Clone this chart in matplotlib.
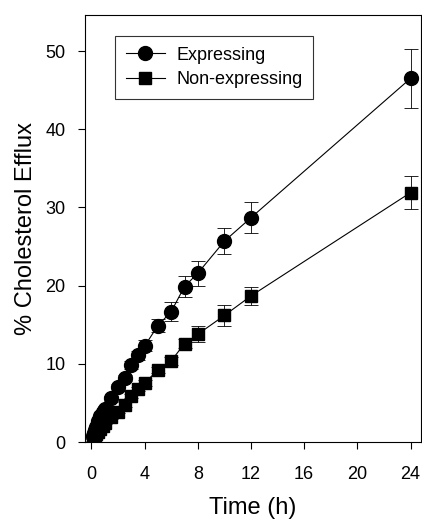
import matplotlib
matplotlib.use('Agg')
import matplotlib.pyplot as plt
from matplotlib.lines import Line2D

plt.rcParams['font.family'] = ['Liberation Sans', 'DejaVu Sans']

# ── Data ──────────────────────────────────────────────────────────────────────
time_h = [0.08, 0.17, 0.25, 0.33, 0.5, 0.67, 0.83, 1, 1.5, 2, 2.5, 3, 3.5, 4,
          5, 6, 7, 8, 10, 12, 24]
expr = [0.8, 1.2, 1.6, 2.0, 2.7, 3.3, 3.9, 4.3, 5.6, 7.0, 8.2, 9.9, 11.1, 12.3,
        14.9, 16.7, 19.9, 21.6, 25.7, 28.7, 46.5]
expr_err = [0.1, 0.1, 0.1, 0.1, 0.2, 0.2, 0.2, 0.3, 0.3, 0.4, 0.4, 0.5, 0.6, 0.7,
            0.8, 1.2, 1.3, 1.6, 1.7, 2.0, 3.8]
nonexpr = [0.3, 0.5, 0.8, 1.0, 1.3, 1.7, 2.1, 2.5, 3.2, 3.9, 4.8, 5.9, 6.8, 7.6,
           9.2, 10.4, 12.6, 13.8, 16.2, 18.7, 31.9]
nonexpr_err = [0.1, 0.1, 0.1, 0.1, 0.1, 0.1, 0.2, 0.2, 0.2, 0.2, 0.3, 0.3, 0.3, 0.4,
               0.4, 0.5, 0.6, 1.0, 1.3, 1.2, 2.1]

fig = plt.figure(figsize=(4.22, 5.19), dpi=100)
ax = fig.add_axes([0.201, 0.148, 0.797, 0.823])

ax.errorbar(time_h, expr, yerr=expr_err, fmt='-o', color='black', ms=10,
            lw=0.8, elinewidth=0.6, capsize=5, capthick=0.6)
ax.errorbar(time_h, nonexpr, yerr=nonexpr_err, fmt='-s', color='black', ms=8.5,
            lw=0.8, elinewidth=0.6, capsize=5, capthick=0.6)

ax.set_xlim(-0.5, 24.8)
ax.set_ylim(0, 54.6)
ax.set_xticks([0, 4, 8, 12, 16, 20, 24])
ax.set_yticks([0, 10, 20, 30, 40, 50])
ax.tick_params(direction='out', length=5, width=0.8, labelsize=13, pad=9)
ax.tick_params(axis='x', pad=12)
for sp in ax.spines.values():
    sp.set_linewidth(0.8)

ax.set_xlabel('Time (h)', fontsize=17, labelpad=10)
ax.set_ylabel('% Cholesterol Efflux', fontsize=17, labelpad=6)

handles = [Line2D([], [], color='black', lw=0.8, marker='o', ms=10),
           Line2D([], [], color='black', lw=0.8, marker='s', ms=8.5)]
leg = ax.legend(handles, ['Expressing', 'Non-expressing'], loc='upper left',
                bbox_to_anchor=(0.089, 0.951), borderaxespad=0, fontsize=13,
                frameon=True, fancybox=False, edgecolor='black', handlelength=2.2,
                borderpad=0.6, labelspacing=0.4, handletextpad=0.6)
leg.get_frame().set_linewidth(0.8)

fig.savefig('out.png', dpi=100)
